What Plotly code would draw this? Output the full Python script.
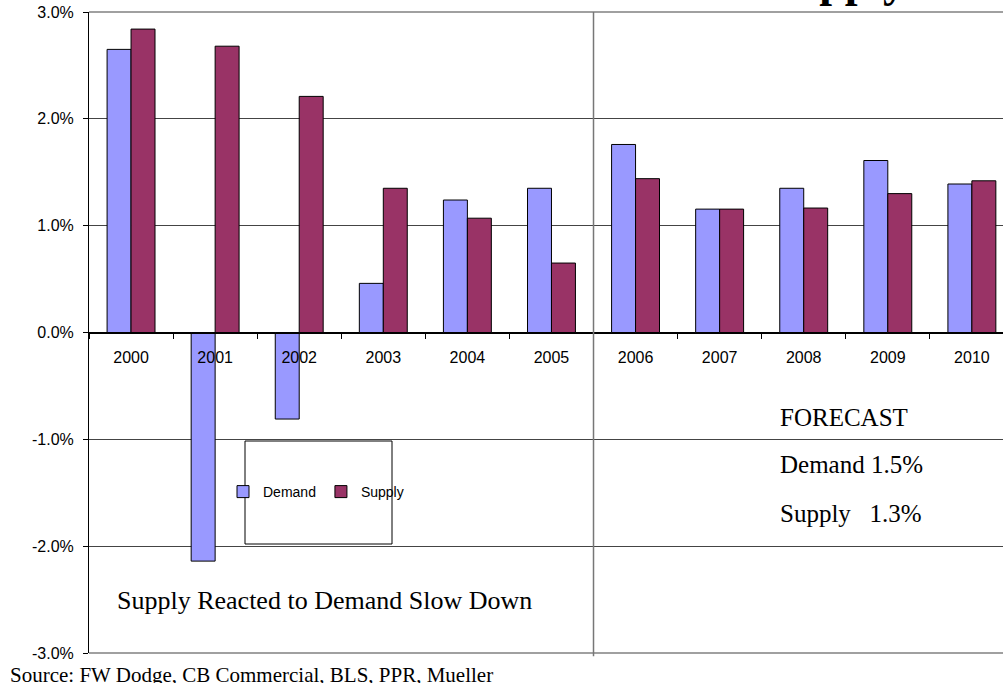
import plotly.graph_objects as go

years = ["2000", "2001", "2002", "2003", "2004", "2005",
         "2006", "2007", "2008", "2009", "2010"]
demand = [2.65, -2.14, -0.81, 0.46, 1.24, 1.35, 1.76, 1.155, 1.35, 1.61, 1.39]
supply = [2.84, 2.68, 2.21, 1.35, 1.07, 0.65, 1.44, 1.155, 1.165, 1.30, 1.42]
y_ticks = [-3, -2, -1, 0, 1, 2, 3]
y_tick_text = ["-3.0%", "-2.0%", "-1.0%", "0.0%", "1.0%", "2.0%", "3.0%"]

W, H = 1003, 683
L, R, T, B = 89, 0, 12, 30
PW, PH = W - L - R, H - T - B


def px(x):
    return (x - L) / PW


def py(y):
    return (H - B - y) / PH


serif = "Liberation Serif, Times New Roman, serif"
sans = "Liberation Sans, Arial, sans-serif"

fig = go.Figure()
fig.add_trace(go.Bar(x=years, y=demand, name="Demand",
                     marker=dict(color="#9999FF", line=dict(color="black", width=1))))
fig.add_trace(go.Bar(x=years, y=supply, name="Supply",
                     marker=dict(color="#993366", line=dict(color="black", width=1))))

fig.update_layout(
    width=W, height=H,
    margin=dict(l=L, r=R, t=T, b=B, pad=0),
    paper_bgcolor="white", plot_bgcolor="white",
    barmode="group", bargap=0.43, bargroupgap=0,
    font=dict(family=sans, size=16, color="black"),
    showlegend=True,
    legend=dict(orientation="h", x=px(316), xanchor="center",
                y=py(492), yanchor="middle",
                bgcolor="rgba(0,0,0,0)", borderwidth=0,
                font=dict(family=sans, size=14, color="black"),
                itemwidth=30, traceorder="normal"),
    xaxis=dict(type="category", range=[-0.5, 10.37],
               anchor="free", position=0.5,
               showline=True, linecolor="black", linewidth=1,
               ticks="outside", tickson="boundaries", ticklen=5, tickcolor="black",
               showgrid=False, ticklabelstandoff=10,
               tickfont=dict(family=sans, size=16, color="black")),
    yaxis=dict(range=[-3, 3], tickmode="array", tickvals=y_ticks, ticktext=y_tick_text,
               showline=True, linecolor="black", linewidth=1,
               ticks="outside", ticklen=5, tickcolor="black",
               showgrid=True, gridcolor="#444444", gridwidth=1,
               zeroline=True, zerolinecolor="black", zerolinewidth=1,
               ticklabelstandoff=6,
               tickfont=dict(family=sans, size=16, color="black")),
)

# top and bottom plot borders
for yv in (0, 1):
    fig.add_shape(type="line", xref="paper", yref="paper", x0=0, x1=1, y0=yv, y1=yv,
                  line=dict(color="#808080", width=1.5))
# forecast divider
fig.add_shape(type="line", xref="x", yref="paper", x0=5.5, x1=5.5, y0=-0.005, y1=1,
              line=dict(color="#777777", width=1.5))
# legend box
fig.add_shape(type="rect", xref="paper", yref="paper",
              x0=px(245), x1=px(392), y0=py(544), y1=py(441),
              line=dict(color="black", width=1), fillcolor="white", layer="above")

annos = [
    ("Supply Reacted to Demand Slow Down", 115, 600, 26),
    ("FORECAST", 778, 418, 25),
    ("Demand 1.5%", 778, 464, 25),
    ("Supply   1.3%", 778, 513, 25),
]
for text, x, y, s in annos:
    fig.add_annotation(text=text, xref="paper", yref="paper", x=px(x), y=py(y),
                       xanchor="left", yanchor="middle", showarrow=False,
                       font=dict(family=serif, size=s, color="black"))

fig.add_annotation(text="Source: FW Dodge, CB Commercial, BLS, PPR, Mueller",
                   xref="paper", yref="paper", x=px(8), y=py(675),
                   xanchor="left", yanchor="middle", showarrow=False,
                   font=dict(family=serif, size=21, color="black"))

# cut-off title at the top
fig.add_annotation(text="<b>Supply</b>", xref="paper", yref="paper",
                   x=px(908), y=py(8), xanchor="right", yanchor="bottom",
                   showarrow=False,
                   font=dict(family=serif, size=46, color="black"))

fig.write_html("out.html", config={"displayModeBar": False},
               post_script="document.body.style.margin='0';document.body.style.overflow='hidden';")
